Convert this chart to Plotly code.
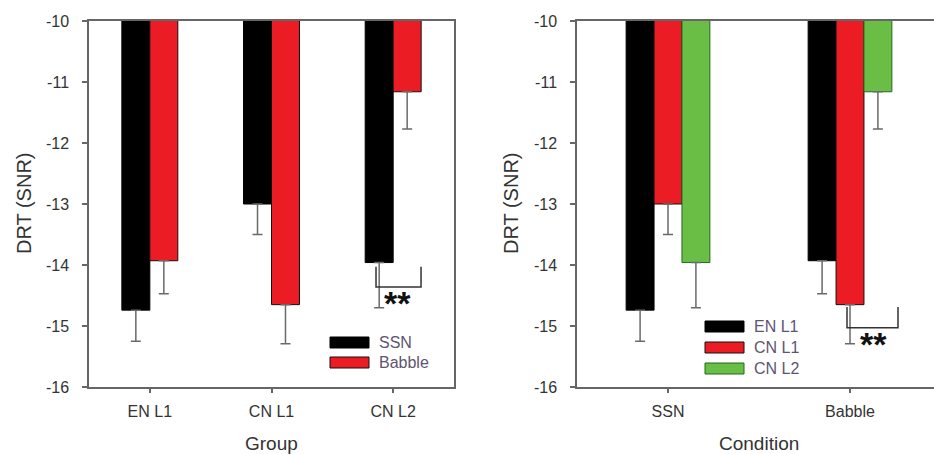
import plotly.graph_objects as go

W, H = 934, 454

groups = ["EN L1", "CN L1", "CN L2"]
conditions = ["SSN", "Babble"]

ssn_vals = [-14.74, -13.00, -13.96]
babble_vals = [-13.93, -14.65, -11.16]
ssn_err = [0.51, 0.50, 0.74]
babble_err = [0.54, 0.64, 0.61]

y_ticks = [-16, -15, -14, -13, -12, -11, -10]
y_tick_text = ["-16", "-15", "-14", "-13", "-12", "-11", "-10"]

BLACK = "#000000"
RED = "#ec1c24"
GREEN = "#6abd45"
AXIS = "#666666"
TXT = "#333333"
LEG_TXT = "#5e5470"
FONT = "Liberation Sans"


def px(x):
    return x / W


def py(y):
    return 1 - y / H


err_style = dict(type="data", symmetric=False, color="#6a6a6a", thickness=1.5, width=5)

fig = go.Figure()

# Left panel: groups on x, SSN / Babble bars
fig.add_trace(go.Bar(x=groups, y=ssn_vals, name="SSN", marker=dict(color=BLACK, line=dict(color="#000", width=1)),
                     error_y=dict(array=[0] * 3, arrayminus=ssn_err, **err_style), xaxis="x", yaxis="y"))
fig.add_trace(go.Bar(x=groups, y=babble_vals, name="Babble", marker=dict(color=RED, line=dict(color="#111", width=1)),
                     error_y=dict(array=[0] * 3, arrayminus=babble_err, **err_style), xaxis="x", yaxis="y"))

# Right panel: conditions on x, group bars
right_colors = [BLACK, RED, GREEN]
right_lines = ["#000", "#111", "#1f6b1f"]
for i, g in enumerate(groups):
    fig.add_trace(go.Bar(x=conditions, y=[ssn_vals[i], babble_vals[i]], name=g,
                         marker=dict(color=right_colors[i], line=dict(color=right_lines[i], width=1)),
                         error_y=dict(array=[0, 0], arrayminus=[ssn_err[i], babble_err[i]], **err_style),
                         xaxis="x2", yaxis="y2"))

axis_common = dict(showline=True, linecolor=AXIS, linewidth=1.5, ticks="outside", tickcolor=AXIS,
                   tickwidth=1.5, showgrid=False, zeroline=False, automargin=False,
                   tickfont=dict(family=FONT, size=16, color=TXT))

ydom = [py(387), py(21)]
fig.update_layout(
    width=W, height=H,
    margin=dict(l=0, r=0, t=0, b=0),
    paper_bgcolor="white", plot_bgcolor="white",
    barmode="group", bargap=0.54, bargroupgap=0,
    showlegend=False,
    xaxis=dict(domain=[px(89), px(454)], range=[-0.5, 2.5], ticklen=4, mirror=True,
               ticklabelstandoff=5, anchor="y", **axis_common),
    yaxis=dict(domain=ydom, range=[-16, -10], tickvals=y_ticks, ticktext=y_tick_text, ticklen=5, mirror=True,
               ticklabelstandoff=10, anchor="x", **axis_common),
    xaxis2=dict(domain=[px(577), 1.0], range=[-0.5, 1.4615], ticklen=4, mirror=True,
                ticklabelstandoff=5, anchor="y2", **axis_common),
    yaxis2=dict(domain=ydom, range=[-16, -10], tickvals=y_ticks, ticktext=y_tick_text, ticklen=5, mirror=False,
                ticklabelstandoff=10, anchor="x2", **axis_common),
)

annotations = []
title_font = dict(family=FONT, size=19, color=TXT)
annotations.append(dict(text="Group", x=px(271), y=py(443), xref="paper", yref="paper", showarrow=False,
                        font=title_font, xanchor="center", yanchor="middle"))
annotations.append(dict(text="Condition", x=px(759), y=py(443), xref="paper", yref="paper", showarrow=False,
                        font=title_font, xanchor="center", yanchor="middle"))
for xc in (24, 511):
    annotations.append(dict(text="DRT (SNR)", x=px(xc), y=py(204), xref="paper", yref="paper", showarrow=False,
                            font=dict(family=FONT, size=20, color=TXT), textangle=-90,
                            xanchor="center", yanchor="middle"))

shapes = []
# Legends (drawn manually to get wide swatches)
left_leg = [("SSN", BLACK, "#000", 337), ("Babble", RED, "#111", 357)]
for lab, col, lc, y0 in left_leg:
    shapes.append(dict(type="rect", xref="paper", yref="paper", x0=px(330), x1=px(369), y0=py(y0), y1=py(y0 + 11),
                       fillcolor=col, line=dict(color=lc, width=1)))
    annotations.append(dict(text=lab, x=px(377), y=py(y0 + 5.5), xref="paper", yref="paper", showarrow=False,
                            xanchor="left", yanchor="middle", font=dict(family=FONT, size=16, color=LEG_TXT)))
right_leg = [("EN L1", BLACK, "#000", 321), ("CN L1", RED, "#111", 342), ("CN L2", GREEN, "#1f6b1f", 363)]
for lab, col, lc, y0 in right_leg:
    shapes.append(dict(type="rect", xref="paper", yref="paper", x0=px(705), x1=px(744), y0=py(y0), y1=py(y0 + 11),
                       fillcolor=col, line=dict(color=lc, width=1)))
    annotations.append(dict(text=lab, x=px(752), y=py(y0 + 5.5), xref="paper", yref="paper", showarrow=False,
                            xanchor="left", yanchor="middle", font=dict(family=FONT, size=16, color=LEG_TXT)))

# Significance brackets (data coordinates)
brackets = [("x", "y", 1.859, 2.229, -14.03, -14.36, 2.034, -14.62),
            ("x2", "y2", 0.9835, 1.2637, -14.69, -15.03, 1.131, -15.29)]
for xr, yr, xa, xb, ytop, ybot, sx, sy in brackets:
    shapes.append(dict(type="path", xref=xr, yref=yr,
                       path=f"M {xa} {ytop} L {xa} {ybot} L {xb} {ybot} L {xb} {ytop}",
                       line=dict(color="#333333", width=1.5)))
    annotations.append(dict(text="<b>**</b>", x=sx, y=sy, xref=xr, yref=yr, showarrow=False,
                            xanchor="center", yanchor="middle", font=dict(family=FONT, size=34, color="#111")))

fig.update_layout(annotations=annotations, shapes=shapes)
fig.write_html("out.html", config={"displayModeBar": False},
               post_script="document.body.style.margin='0';document.body.style.padding='0';"
                           "document.body.style.overflow='hidden';")
